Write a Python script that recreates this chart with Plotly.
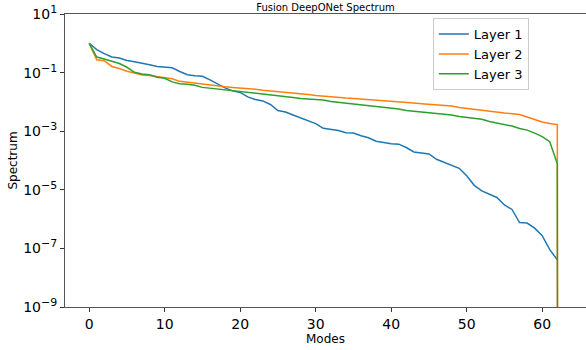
import plotly.graph_objects as go

modes = list(range(64))

layer1 = [1.0, 0.605, 0.442, 0.340, 0.314, 0.260, 0.234, 0.212, 0.185, 0.162,
          0.150, 0.146, 0.109, 0.0841, 0.0776, 0.0746, 0.0566, 0.0413, 0.0301, 0.0238,
          0.0211, 0.0148, 0.0121, 0.0108, 0.00818, 0.00509, 0.00452, 0.00357, 0.00281, 0.00231,
          0.00182, 0.00125, 0.00112, 0.00106, 0.000881, 0.000861, 0.000695, 0.000594, 0.000457, 0.000413,
          0.000376, 0.000361, 0.000278, 0.000196, 0.000185, 0.000168, 0.000110, 8.71e-5, 6.87e-5, 5.42e-5,
          3.00e-5, 1.42e-5, 9.16e-6, 6.95e-6, 5.48e-6, 3.03e-6, 2.13e-6, 7.62e-7, 7.31e-7, 4.93e-7,
          2.73e-7, 9.02e-8, 4.09e-8, None]

layer2 = [1.0, 0.275, 0.254, 0.162, 0.137, 0.111, 0.0962, 0.0828, 0.0796, 0.0729,
          0.0668, 0.0613, 0.0503, 0.0465, 0.0447, 0.0397, 0.0367, 0.0347, 0.0326, 0.0313,
          0.0301, 0.0294, 0.0272, 0.0251, 0.0238, 0.0225, 0.0214, 0.0206, 0.0198, 0.0180,
          0.0166, 0.0156, 0.0148, 0.0142, 0.0135, 0.0131, 0.0126, 0.0123, 0.0117, 0.0112,
          0.0108, 0.0104, 0.00958, 0.00920, 0.00871, 0.00830, 0.00785, 0.00755, 0.00726, 0.00645,
          0.00596, 0.00564, 0.00530, 0.00490, 0.00435, 0.00418, 0.00395, 0.00371, 0.00305, 0.00250,
          0.00205, 0.00182, 0.00168, 0.0]

layer3 = [1.0, 0.340, 0.290, 0.242, 0.204, 0.152, 0.102, 0.0895, 0.0841, 0.0690,
          0.0637, 0.0483, 0.0420, 0.0397, 0.0367, 0.0313, 0.0294, 0.0278, 0.0257, 0.0238,
          0.0223, 0.0211, 0.0200, 0.0187, 0.0173, 0.0163, 0.0154, 0.0142, 0.0131, 0.0126,
          0.0121, 0.0115, 0.0104, 0.00973, 0.00920, 0.00851, 0.00818, 0.00774, 0.00710, 0.00671,
          0.00635, 0.00573, 0.00509, 0.00490, 0.00452, 0.00425, 0.00408, 0.00386, 0.00357, 0.00317,
          0.00293, 0.00270, 0.00254, 0.00213, 0.00190, 0.00175, 0.00150, 0.00123, 0.00109, 0.000861,
          0.000653, 0.000440, 7.74e-5, 0.0]

series_names = ["Layer 1", "Layer 2", "Layer 3"]
colors = ["#1f77b4", "#ff7f0e", "#2ca02c"]

ytick_vals = [1e1, 1e-1, 1e-3, 1e-5, 1e-7, 1e-9]
ytick_exponents = ["1", "\u22121", "\u22123", "\u22125", "\u22127", "\u22129"]
xtick_vals = [0, 10, 20, 30, 40, 50, 60]

ytick_text = ['10<sup><span style="font-size:11px">%s</span></sup>' % e for e in ytick_exponents]


def clip_nonpositive(vals):
    # mimic a log axis that clips non-positive values to a tiny floor
    return [None if v is None else (v if v > 0 else 1e-300) for v in vals]


fig = go.Figure()
for name, vals, col in zip(series_names, [layer1, layer2, layer3], colors):
    fig.add_trace(go.Scatter(x=modes, y=clip_nonpositive(vals), mode="lines", name=name,
                             line=dict(color=col, width=1.5)))

font_family = "DejaVu Sans"
fig.update_layout(
    width=586, height=350,
    margin=dict(l=65, r=0, t=14, b=43, autoexpand=False),
    paper_bgcolor="white", plot_bgcolor="white",
    font=dict(family=font_family, color="black"),
    title=dict(text="Fusion DeepONet Spectrum", font=dict(size=10, family=font_family, color="black"),
               x=0.5, xref="paper", xanchor="center", y=0.98, yref="container", yanchor="middle"),
    showlegend=True,
    legend=dict(x=0.706, y=0.986, xanchor="left", yanchor="top",
                bgcolor="rgba(255,255,255,0.8)", bordercolor="#cccccc", borderwidth=1,
                font=dict(size=13, family=font_family), itemwidth=30, tracegroupgap=0),
)
fig.update_xaxes(range=[-3.2, 65.8], tickvals=xtick_vals, ticks="outside", ticklen=4, tickwidth=1,
                 tickcolor="#333", showline=True, linecolor="#555", linewidth=1, mirror=True,
                 showgrid=False, zeroline=False, tickfont=dict(size=14), automargin=False,
                 title=dict(text="Modes", font=dict(size=12), standoff=1))
fig.update_yaxes(type="log", range=[-9, 1], tickvals=ytick_vals, ticktext=ytick_text,
                 ticks="outside", ticklen=4, tickwidth=1, tickcolor="#333",
                 showline=True, linecolor="#555", linewidth=1, mirror=False,
                 showgrid=False, zeroline=False, tickfont=dict(size=14), automargin=False,
                 title=dict(text="Spectrum", font=dict(size=12), standoff=2))

fig.write_html("out.html", config={"displayModeBar": False},
               post_script="document.body.style.margin='0';")
